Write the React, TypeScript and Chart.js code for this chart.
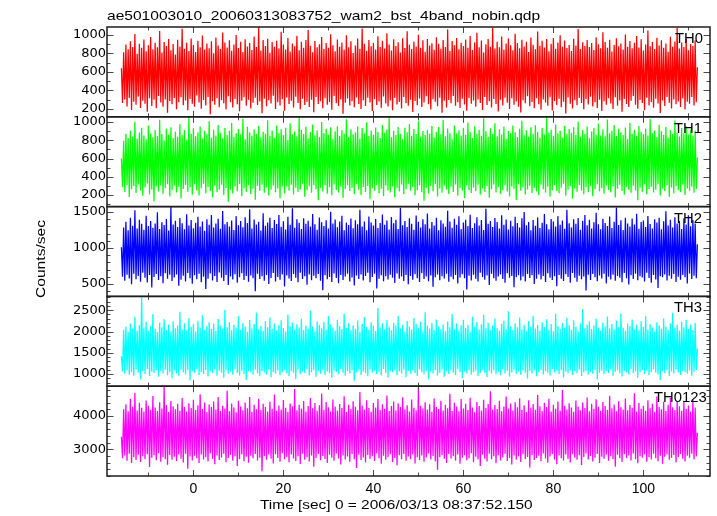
import React, { useEffect, useRef } from 'react';
import { Chart, registerables } from 'chart.js';
Chart.register(...registerables);

// ---- data (time grid: start + step, one value per sample) ----
const T_START = -16;
const T_STEP = 0.25;

const PANEL_LABELS = ['TH0', 'TH1', 'TH2', 'TH3', 'TH0123'];
const TITLE = 'ae501003010_20060313083752_wam2_bst_4band_nobin.qdp';
const X_TITLE = 'Time [sec] 0 = 2006/03/13 08:37:52.150';
const Y_TITLE = 'Counts/sec';

const TH0 = [
  640, 262, 812, 301, 897, 224, 846, 318, 933, 187, 871, 276, 1012, 243, 798, 332,
  905, 209, 862, 288, 951, 256, 823, 167, 889, 314, 978, 231, 845, 297, 916, 205,
  867, 339, 1043, 268, 809, 221, 924, 302, 881, 158, 957, 284, 836, 249, 902, 317,
  789, 196, 948, 272, 874, 325, 1068, 238, 851, 289, 917, 183, 826, 307, 963, 254,
  892, 222, 815, 343, 939, 267, 868, 201, 995, 296, 842, 235, 907, 328, 857, 142,
  931, 281, 803, 245, 972, 313, 886, 218, 848, 294, 1027, 259, 919, 192, 864, 336,
  943, 271, 829, 213, 898, 305, 1001, 248, 858, 172, 926, 287, 817, 326, 954, 233,
  876, 299, 912, 204, 838, 265, 985, 319, 869, 241, 1087, 278, 832, 152, 945, 310,
  881, 227, 960, 293, 807, 257, 923, 342, 872, 199, 938, 270, 853, 236, 1036, 303,
  896, 180, 844, 322, 968, 251, 821, 286, 909, 214, 879, 331, 992, 263, 836, 195,
  927, 308, 862, 240, 946, 275, 1054, 220, 883, 297, 812, 163, 935, 327, 868, 252,
  901, 283, 979, 206, 847, 315, 914, 244, 861, 273, 1009, 190, 890, 338, 824, 261,
  952, 229, 873, 300, 918, 147, 840, 266, 997, 311, 866, 237, 932, 282, 805, 216,
  887, 323, 963, 253, 850, 197, 1071, 292, 904, 230, 829, 319, 945, 268, 878, 176,
  916, 306, 843, 242, 986, 279, 870, 211, 939, 334, 855, 258, 1018, 225, 897, 290,
  831, 185, 954, 316, 882, 247, 921, 274, 811, 202, 966, 329, 859, 261, 1042, 234,
  893, 298, 848, 166, 929, 285, 875, 239, 1003, 312, 863, 219, 942, 269, 818, 337,
  958, 250, 885, 193, 911, 304, 839, 276, 976, 227, 906, 321, 852, 156, 947, 287,
  871, 213, 1061, 295, 827, 260, 934, 340, 889, 232, 968, 271, 845, 208, 915, 309,
  880, 246, 951, 179, 862, 318, 990, 255, 837, 291, 920, 223, 1024, 302, 866, 264,
  941, 188, 809, 328, 899, 241, 957, 282, 874, 215, 1079, 306, 853, 253, 926, 171,
  868, 297, 983, 236, 842, 320, 908, 266, 961, 199, 888, 313, 834, 244, 1013, 280,
  912, 222, 857, 161, 949, 292, 876, 259, 928, 335, 816, 228, 973, 273, 895, 207,
  846, 315, 1039, 249, 883, 190, 937, 301, 864, 268, 956, 233, 823, 326, 904, 182,
  967, 284, 851, 240, 918, 310, 998, 217, 873, 277, 940, 149, 858, 322, 891, 256,
  827, 203, 959, 293, 885, 239, 1066, 318, 847, 262, 922, 194, 880, 305, 946, 247,
  869, 330, 913, 225, 838, 271, 977, 208, 901, 299, 856, 176, 1031, 283, 924, 243,
  862, 314, 948, 258, 820, 197, 893, 325, 965, 234, 877, 290, 909, 168, 842, 306,
  1005, 251, 872, 219, 936, 287, 857, 339, 916, 245, 989, 201, 865, 296, 954, 263,
  833, 185, 898, 320, 1048, 236, 879, 274, 925, 212, 848, 308, 971, 257, 887, 153,
  942, 289, 861, 231, 907, 327, 818, 266, 982, 204, 874, 300, 930, 248, 1075, 280,
  855, 220, 919, 311, 869, 193, 958, 276, 836, 254, 903, 329, 882, 237, 944, 270,
  650,
];

const TH1 = [
  600, 286, 795, 232, 871, 309, 826, 178, 904, 263, 842, 297, 1003, 221, 817, 315,
  886, 248, 939, 190, 853, 281, 812, 327, 961, 206, 878, 259, 834, 132, 912, 293,
  847, 237, 1026, 305, 869, 214, 798, 276, 928, 318, 861, 184, 943, 252, 825, 301,
  895, 227, 838, 290, 976, 160, 859, 265, 914, 309, 806, 236, 1058, 283, 874, 203,
  931, 317, 844, 248, 889, 195, 952, 274, 816, 323, 903, 218, 867, 288, 1012, 241,
  829, 172, 917, 300, 852, 229, 968, 261, 883, 311, 821, 199, 936, 277, 857, 125,
  904, 256, 990, 216, 839, 294, 876, 242, 925, 320, 863, 187, 1037, 270, 811, 235,
  948, 306, 885, 210, 851, 268, 919, 148, 868, 299, 957, 245, 832, 313, 894, 223,
  873, 282, 1019, 193, 846, 257, 908, 304, 827, 230, 963, 271, 880, 165, 922, 292,
  858, 217, 939, 289, 804, 246, 986, 312, 866, 204, 897, 278, 843, 234, 1045, 260,
  915, 322, 869, 181, 948, 251, 822, 295, 891, 225, 972, 308, 854, 262, 910, 141,
  837, 276, 1001, 239, 881, 303, 926, 213, 861, 284, 942, 198, 815, 316, 899, 254,
  955, 228, 848, 291, 913, 170, 874, 266, 1031, 306, 836, 243, 920, 279, 865, 211,
  888, 319, 952, 258, 819, 200, 934, 287, 876, 232, 998, 298, 847, 154, 907, 273,
  862, 244, 941, 310, 893, 219, 825, 267, 969, 189, 884, 302, 918, 250, 1050, 226,
  834, 293, 906, 176, 857, 275, 946, 238, 871, 315, 812, 208, 937, 264, 887, 324,
  979, 247, 851, 285, 924, 196, 868, 253, 1009, 307, 840, 231, 901, 137, 859, 280,
  916, 215, 872, 297, 958, 242, 830, 319, 894, 182, 947, 270, 866, 225, 1022, 301,
  845, 259, 929, 210, 881, 289, 811, 233, 963, 314, 877, 192, 909, 276, 853, 246,
  938, 163, 861, 304, 995, 255, 892, 221, 826, 283, 954, 240, 873, 311, 915, 201,
  850, 272, 1041, 235, 898, 299, 838, 168, 932, 262, 869, 315, 987, 227, 844, 288,
  921, 212, 864, 251, 950, 306, 817, 239, 903, 184, 878, 294, 961, 267, 889, 146,
  835, 318, 926, 245, 1014, 283, 856, 204, 911, 259, 842, 300, 944, 222, 872, 276,
  966, 237, 891, 197, 828, 313, 937, 264, 863, 228, 1052, 290, 885, 179, 917, 252,
  849, 307, 973, 243, 876, 218, 906, 279, 831, 323, 958, 191, 868, 261, 923, 296,
  884, 158, 943, 272, 857, 234, 1006, 310, 839, 250, 912, 207, 870, 285, 951, 229,
  822, 298, 896, 186, 934, 263, 861, 318, 984, 240, 853, 274, 918, 214, 843, 304,
  1027, 255, 877, 230, 905, 292, 968, 172, 846, 269, 927, 311, 888, 244, 859, 201,
  940, 287, 814, 258, 992, 223, 873, 301, 915, 249, 848, 143, 956, 278, 895, 236,
  866, 316, 929, 209, 852, 265, 1034, 291, 881, 226, 908, 257, 836, 320, 971, 194,
  899, 268, 858, 242, 946, 306, 827, 178, 912, 283, 869, 218, 1016, 295, 884, 253,
  841, 230, 935, 312, 876, 200, 953, 271, 863, 247, 919, 289, 850, 225, 907, 266,
  610,
];

const TH2 = [
  1010, 602, 1285, 548, 1362, 631, 1247, 579, 1418, 497, 1309, 644, 1521, 566, 1268, 612,
  1391, 534, 1336, 659, 1254, 587, 1447, 521, 1303, 626, 1372, 453, 1279, 598, 1338, 640,
  1493, 557, 1262, 608, 1355, 512, 1317, 651, 1402, 574, 1241, 629, 1573, 545, 1326, 593,
  1378, 634, 1289, 476, 1414, 562, 1344, 617, 1258, 538, 1466, 655, 1312, 583, 1387, 506,
  1273, 622, 1349, 569, 1432, 645, 1296, 527, 1365, 603, 1238, 433, 1397, 575, 1321, 648,
  1458, 551, 1283, 614, 1340, 530, 1405, 661, 1267, 589, 1512, 542, 1330, 627, 1359, 488,
  1299, 606, 1382, 564, 1250, 637, 1441, 519, 1316, 595, 1374, 650, 1286, 556, 1426, 612,
  1345, 533, 1537, 621, 1271, 580, 1393, 402, 1325, 642, 1363, 571, 1242, 610, 1480, 546,
  1307, 628, 1354, 503, 1419, 586, 1276, 654, 1388, 537, 1332, 600, 1455, 561, 1294, 635,
  1370, 467, 1257, 618, 1434, 578, 1321, 543, 1549, 639, 1281, 590, 1399, 525, 1348, 657,
  1264, 572, 1412, 609, 1337, 493, 1378, 632, 1296, 554, 1471, 617, 1328, 580, 1253, 640,
  1423, 548, 1357, 415, 1305, 624, 1385, 566, 1269, 600, 1502, 531, 1340, 646, 1394, 584,
  1288, 511, 1366, 627, 1446, 558, 1247, 605, 1351, 642, 1318, 536, 1408, 592, 1274, 481,
  1383, 619, 1330, 570, 1528, 634, 1299, 549, 1367, 611, 1245, 658, 1437, 527, 1353, 597,
  1311, 643, 1401, 438, 1277, 576, 1346, 623, 1464, 539, 1323, 608, 1380, 563, 1256, 630,
  1429, 590, 1342, 515, 1390, 648, 1263, 575, 1556, 604, 1315, 544, 1374, 626, 1292, 499,
  1410, 613, 1334, 559, 1252, 637, 1448, 582, 1362, 528, 1285, 652, 1397, 571, 1327, 607,
  1478, 540, 1271, 618, 1358, 462, 1312, 596, 1419, 633, 1246, 555, 1385, 609, 1339, 577,
  1295, 645, 1517, 532, 1368, 601, 1281, 568, 1404, 625, 1320, 507, 1439, 592, 1261, 638,
  1352, 583, 1391, 425, 1303, 615, 1460, 551, 1278, 629, 1344, 574, 1426, 536, 1311, 656,
  1386, 597, 1249, 561, 1543, 620, 1335, 489, 1372, 643, 1290, 580, 1415, 547, 1358, 606,
  1268, 632, 1452, 570, 1322, 518, 1395, 649, 1255, 588, 1376, 611, 1301, 456, 1433, 594,
  1347, 624, 1283, 552, 1410, 606, 1497, 537, 1316, 640, 1361, 584, 1244, 623, 1388, 503,
  1308, 576, 1421, 635, 1275, 564, 1350, 612, 1469, 528, 1330, 651, 1259, 590, 1402, 556,
  1367, 609, 1297, 471, 1441, 628, 1320, 573, 1381, 545, 1265, 637, 1530, 600, 1343, 520,
  1284, 653, 1399, 589, 1336, 534, 1415, 617, 1252, 568, 1377, 606, 1458, 412, 1314, 629,
  1392, 558, 1270, 641, 1355, 596, 1486, 541, 1329, 618, 1260, 577, 1404, 645, 1345, 510,
  1306, 602, 1435, 565, 1278, 630, 1364, 548, 1560, 614, 1317, 587, 1383, 526, 1250, 655,
  1420, 581, 1339, 496, 1297, 623, 1408, 570, 1326, 642, 1473, 553, 1266, 610, 1359, 593,
  1382, 537, 1292, 658, 1444, 585, 1333, 519, 1271, 627, 1398, 564, 1352, 447, 1418, 609,
  1259, 596, 1369, 632, 1508, 550, 1310, 617, 1391, 574, 1282, 639, 1427, 530, 1340, 603,
  1373, 561, 1264, 626, 1413, 594, 1325, 507, 1453, 648, 1301, 572, 1386, 615, 1338, 583,
  1050,
];

const TH3 = [
  1420, 1062, 2043, 1008, 2117, 1093, 1996, 987, 2188, 1045, 2071, 963, 2342, 1110, 2025, 1031,
  2154, 874, 2800, 1076, 2089, 1002, 2231, 1118, 2012, 956, 2126, 1057, 2412, 1024, 2063, 1099,
  1988, 938, 2205, 1071, 2098, 1013, 2287, 1105, 2034, 975, 2163, 1048, 2006, 901, 2241, 1084,
  2079, 1016, 2139, 969, 2467, 1102, 2051, 1039, 2194, 993, 2020, 1089, 2316, 852, 2110, 1061,
  2168, 1027, 1999, 1113, 2252, 981, 2086, 1050, 2381, 1004, 2039, 1096, 2130, 945, 2218, 1068,
  2057, 1021, 2183, 1107, 2010, 960, 2296, 1079, 2147, 1035, 2071, 917, 2513, 1092, 2103, 1010,
  2226, 1055, 2030, 984, 2159, 1115, 2094, 1029, 2357, 966, 2044, 1082, 2202, 1003, 2118, 865,
  1993, 1066, 2270, 1041, 2074, 992, 2176, 1100, 2440, 1018, 2055, 951, 2137, 1074, 2017, 1037,
  2244, 990, 2101, 1109, 2327, 927, 2062, 1052, 2189, 1011, 2026, 1087, 2155, 973, 2263, 1043,
  2084, 1094, 2003, 1019, 2398, 958, 2121, 1071, 2213, 1032, 2049, 886, 2172, 1104, 2092, 999,
  2301, 1058, 2035, 1023, 2143, 1117, 2068, 970, 2485, 1046, 2115, 1090, 2008, 939, 2236, 1065,
  2151, 1006, 2077, 1101, 2224, 979, 2040, 1060, 2364, 1027, 2166, 912, 2097, 1083, 2019, 1049,
  2279, 995, 2128, 1112, 2058, 1034, 2425, 961, 2081, 1075, 2197, 1014, 2033, 1097, 2149, 843,
  2065, 1040, 2256, 1086, 2002, 982, 2181, 1063, 2338, 1020, 2106, 948, 2042, 1108, 2215, 1036,
  2134, 1078, 2013, 1000, 2559, 1054, 2090, 967, 2192, 1119, 2054, 1028, 2268, 922, 2119, 1067,
  2027, 1044, 2207, 1091, 2145, 976, 2373, 1059, 2072, 1012, 2161, 1103, 1997, 934, 2248, 1072,
  2112, 1009, 2045, 1085, 2320, 1026, 2178, 953, 2088, 1111, 2230, 1042, 2015, 998, 2453, 1080,
  2136, 880, 2069, 1057, 2199, 1015, 2037, 1098, 2285, 968, 2124, 1033, 2052, 1106, 2164, 941,
  2009, 1070, 2238, 1001, 2102, 1088, 2411, 1030, 2060, 978, 2186, 1114, 2023, 1051, 2147, 906,
  2274, 1064, 2081, 1017, 2157, 1093, 2000, 985, 2349, 1047, 2113, 1081, 2221, 958, 2046, 1025,
  2170, 1101, 2391, 1038, 2076, 931, 2207, 1066, 2029, 1013, 2140, 1092, 2306, 997, 2085, 1054,
  2018, 971, 2184, 1110, 2251, 1022, 2064, 1077, 2478, 944, 2126, 1040, 2036, 1100, 2193, 1007,
  2099, 1061, 2331, 987, 2050, 1085, 2160, 1034, 2011, 898, 2245, 1072, 2118, 1016, 2372, 1090,
  2073, 950, 2154, 1048, 2026, 1105, 2219, 993, 2107, 1069, 2290, 1030, 2043, 965, 2177, 1115,
  2008, 1039, 2416, 1079, 2131, 1004, 2061, 1096, 2202, 926, 2090, 1058, 2324, 1021, 2150, 1087,
  2039, 982, 2262, 1065, 2116, 1018, 2004, 1103, 2188, 955, 2527, 1044, 2079, 1074, 2163, 989,
  2233, 1052, 2057, 1010, 2139, 1097, 2297, 872, 2091, 1035, 2021, 1083, 2210, 1000, 2125, 1063,
  2354, 1029, 2068, 1108, 2174, 962, 2047, 1055, 2261, 1092, 2104, 1019, 2431, 947, 2083, 1076,
  2016, 1041, 2190, 999, 2129, 1113, 2283, 1026, 2052, 1068, 2157, 916, 2031, 1051, 2240, 1099,
  2108, 1005, 2369, 1080, 2045, 973, 2171, 1046, 2094, 1116, 2001, 1032, 2215, 990, 2140, 859,
  2066, 1070, 2305, 1023, 2118, 1094, 2033, 957, 2196, 1060, 2442, 1014, 2087, 1102, 2159, 1037,
  2024, 981, 2227, 1073, 2100, 1043, 2278, 1009, 2058, 1089, 2166, 964, 2037, 1057, 2203, 1095,
  1600,
];

const TH0123 = [
  3380, 2736, 4205, 2812, 4356, 2654, 4148, 2871, 4521, 2590, 4283, 2759, 4702, 2683, 4172, 2840,
  4398, 2618, 4249, 2793, 4135, 2702, 4467, 2855, 4310, 2466, 4189, 2745, 4603, 2821, 4262, 2671,
  4157, 2880, 4419, 2627, 4231, 2766, 4886, 2704, 4337, 2539, 4120, 2832, 4455, 2690, 4296, 2775,
  4208, 2651, 4372, 2848, 4164, 2721, 4542, 2604, 4276, 2869, 4138, 2414, 4389, 2783, 4241, 2663,
  4495, 2805, 4182, 2730, 4323, 2587, 4659, 2842, 4214, 2697, 4407, 2764, 4126, 2631, 4348, 2875,
  4271, 2709, 4436, 2553, 4197, 2814, 4573, 2678, 4150, 2752, 4313, 2866, 4228, 2613, 4760, 2738,
  4145, 2827, 4382, 2661, 4255, 2789, 4117, 2502, 4465, 2713, 4292, 2851, 4176, 2640, 4411, 2775,
  4239, 2596, 4578, 2809, 4132, 2731, 4345, 2862, 4208, 2668, 4524, 2746, 4187, 2338, 4369, 2797,
  4270, 2685, 4140, 2837, 4432, 2716, 4221, 2576, 4648, 2853, 4163, 2742, 4318, 2625, 4195, 2880,
  4486, 2700, 4252, 2771, 4129, 2609, 4377, 2846, 4296, 2727, 4813, 2652, 4175, 2795, 4341, 2561,
  4218, 2869, 4454, 2688, 4142, 2760, 4307, 2634, 4541, 2818, 4233, 2476, 4395, 2739, 4161, 2857,
  4330, 2673, 4682, 2801, 4192, 2711, 4423, 2590, 4266, 2835, 4135, 2749, 4502, 2660, 4285, 2878,
  4158, 2722, 4367, 2547, 4244, 2813, 4596, 2695, 4122, 2782, 4340, 2628, 4211, 2864, 4448, 2706,
  4279, 2436, 4173, 2840, 4725, 2679, 4316, 2757, 4199, 2601, 4474, 2828, 4247, 2718, 4134, 2796,
  4392, 2646, 4259, 2873, 4518, 2733, 4186, 2565, 4354, 2808, 4223, 2690, 4620, 2770, 4151, 2852,
  4301, 2617, 4440, 2741, 4167, 2520, 4384, 2826, 4272, 2704, 4566, 2861, 4204, 2656, 4329, 2788,
  4137, 2699, 4496, 2844, 4253, 2575, 4179, 2763, 4861, 2681, 4311, 2816, 4232, 2627, 4417, 2752,
  4196, 2877, 4358, 2693, 4128, 2802, 4530, 2642, 4277, 2385, 4214, 2760, 4463, 2834, 4166, 2714,
  4345, 2589, 4235, 2859, 4671, 2726, 4154, 2797, 4402, 2661, 4290, 2845, 4147, 2567, 4512, 2744,
  4226, 2820, 4375, 2675, 4181, 2735, 4549, 2881, 4262, 2610, 4118, 2778, 4426, 2698, 4306, 2498,
  4161, 2839, 4493, 2717, 4240, 2633, 4365, 2867, 4746, 2701, 4199, 2789, 4336, 2582, 4213, 2824,
  4459, 2666, 4143, 2756, 4288, 2868, 4591, 2650, 4230, 2739, 4381, 2545, 4170, 2815, 4414, 2687,
  4264, 2783, 4537, 2621, 4191, 2850, 4326, 2708, 4125, 2768, 4480, 2455, 4248, 2831, 4362, 2677,
  4188, 2742, 4633, 2806, 4297, 2640, 4155, 2872, 4403, 2723, 4271, 2599, 4519, 2787, 4139, 2862,
  4339, 2694, 4222, 2553, 4441, 2818, 4168, 2731, 4785, 2664, 4313, 2847, 4202, 2712, 4390, 2604,
  4256, 2856, 4133, 2750, 4472, 2684, 4291, 2826, 4176, 2527, 4407, 2768, 4244, 2879, 4560, 2697,
  4149, 2801, 4368, 2637, 4219, 2748, 4508, 2860, 4280, 2592, 4163, 2780, 4425, 2716, 4302, 2838,
  4187, 2657, 4612, 2795, 4236, 2703, 4352, 2476, 4145, 2835, 4449, 2735, 4268, 2619, 4199, 2854,
  4526, 2729, 4174, 2812, 4334, 2662, 4252, 2874, 4688, 2705, 4136, 2580, 4395, 2791, 4221, 2746,
  4309, 2843, 4162, 2628, 4480, 2761, 4238, 2698, 4370, 2866, 4127, 2732, 4587, 2645, 4283, 2810,
  4206, 2569, 4431, 2776, 4150, 2849, 4343, 2688, 4551, 2740, 4267, 2829, 4180, 2607, 4422, 2772,
  4293, 2861, 4159, 2719, 4462, 2637, 4224, 2807, 4318, 2751, 4141, 2871, 4497, 2693, 4259, 2786,
  3500,
];

const SERIES = [TH0, TH1, TH2, TH3, TH0123];
const COLORS = ['#ff0000', '#00ff00', '#0000ff', '#00ffff', '#ff00ff'];

// axis limits and tick values
const X_MIN = -19.2;
const X_MAX = 114.8;
const X_MAJOR = [0, 20, 40, 60, 80, 100];
const X_MINOR_STEP = 10;

const Y_MIN = [113, 72, 330, 716, 2198];
const Y_MAX = [1087, 1058, 1573, 2825, 4900];
const Y_MAJOR = [
  [200, 400, 600, 800, 1000],
  [200, 400, 600, 800, 1000],
  [500, 1000, 1500],
  [1000, 1500, 2000, 2500],
  [3000, 4000],
];
const Y_MINOR_STEP = [100, 100, 100, 100, 200];

const SANS = "'Liberation Sans', Arial, Helvetica, sans-serif";

const framePlugin = {
  id: 'qdpFrame',
  afterDatasetsDraw(chart: any) {
    const ctx = chart.ctx as CanvasRenderingContext2D;
    const xs = chart.scales.x;
    const left = chart.chartArea.left;
    const right = chart.chartArea.right;
    ctx.save();
    const line = (x1: number, y1: number, x2: number, y2: number) => {
      ctx.beginPath();
      ctx.moveTo(x1, y1);
      ctx.lineTo(x2, y2);
      ctx.stroke();
    };
    for (let k = 0; k < SERIES.length; k++) {
      const ys = chart.scales['y' + k];
      const top = ys.top;
      const bottom = ys.bottom;
      ctx.strokeStyle = '#4a4a4a';
      ctx.lineWidth = 1;
      const step = Y_MINOR_STEP[k];
      for (let v = Math.ceil(Y_MIN[k] / step) * step; v <= Y_MAX[k]; v += step) {
        const len = Y_MAJOR[k].includes(v) ? 6.5 : 3.5;
        const y = Math.round(ys.getPixelForValue(v)) + 0.5;
        line(left, y, left + len, y);
        line(right, y, right - len, y);
      }
      for (let v = Math.ceil(X_MIN / X_MINOR_STEP) * X_MINOR_STEP; v <= X_MAX; v += X_MINOR_STEP) {
        const len = X_MAJOR.includes(v) ? 6 : 3.5;
        const x = Math.round(xs.getPixelForValue(v)) + 0.5;
        line(x, top, x, top + len);
        line(x, bottom, x, bottom - len);
      }
      ctx.strokeStyle = '#1e1e1e';
      ctx.lineWidth = 1.5;
      ctx.strokeRect(left, top, right - left, bottom - top);
    }
    ctx.restore();
  },
};

const PANEL_LABEL_LEFT = [675, 674, 674, 674, 654];
const PANEL_LABEL_TOP = [31, 121, 211, 300, 390];

export default function App() {
  const ref = useRef<HTMLCanvasElement>(null);

  useEffect(() => {
    const canvas = ref.current;
    if (!canvas) return;
    const datasets = SERIES.map((vals, k) => ({
      label: PANEL_LABELS[k],
      data: vals.map((v, i) => ({ x: T_START + i * T_STEP, y: v })),
      yAxisID: 'y' + k,
      borderColor: COLORS[k],
      backgroundColor: COLORS[k],
      borderWidth: 1.25,
      borderJoinStyle: 'bevel' as const,
      pointRadius: 0,
      tension: 0,
      fill: false,
    }));
    const scales: any = {
      x: {
        type: 'linear',
        position: 'bottom',
        min: X_MIN,
        max: X_MAX,
        afterBuildTicks: (s: any) => {
          s.ticks = X_MAJOR.map((v) => ({ value: v }));
        },
        afterFit: (s: any) => {
          s.height = 40;
        },
        grid: { display: false, drawTicks: false },
        border: { display: false },
        ticks: {
          color: '#000',
          font: { family: SANS, size: 14 },
          padding: 5,
          maxRotation: 0,
          autoSkip: false,
          callback: (v: any) => String(v),
        },
      },
    };
    SERIES.forEach((_, k) => {
      scales['y' + k] = {
        type: 'linear',
        position: 'left',
        stack: 'panels',
        stackWeight: 1,
        weight: SERIES.length - k,
        min: Y_MIN[k],
        max: Y_MAX[k],
        afterBuildTicks: (s: any) => {
          s.ticks = Y_MAJOR[k].map((v) => ({ value: v }));
        },
        afterFit: (s: any) => {
          s.width = 107;
        },
        grid: { display: false, drawTicks: false },
        border: { display: false },
        ticks: {
          color: '#000',
          font: { family: "'DejaVu Sans', sans-serif", size: 13 },
          padding: 1,
          autoSkip: false,
          callback: (v: any) => String(v),
        },
      };
    });
    const chart = new Chart(canvas, {
      type: 'line',
      data: { datasets },
      options: {
        animation: false,
        responsive: false,
        devicePixelRatio: 1,
        events: [],
        layout: { padding: { top: 27, right: 7, left: 0, bottom: 0 } },
        plugins: { legend: { display: false }, tooltip: { enabled: false }, title: { display: false } },
        scales,
      },
      plugins: [framePlugin],
    } as any);
    return () => chart.destroy();
  }, []);

  const textBase: React.CSSProperties = {
    position: 'absolute',
    fontFamily: SANS,
    lineHeight: 1,
    whiteSpace: 'nowrap',
    color: '#000',
    transformOrigin: 'left top',
  };

  return (
    <div style={{ position: 'absolute', left: 0, top: 0, width: 717, height: 516, background: '#fff' }}>
      <canvas ref={ref} width={717} height={516} style={{ position: 'absolute', left: 0, top: 0 }} />
      <div style={{ ...textBase, left: 107, top: 9, fontSize: 13, transform: 'scaleX(1.196)' }}>{TITLE}</div>
      <div style={{ ...textBase, left: 260, top: 498, fontSize: 13, transform: 'scaleX(1.187)' }}>{X_TITLE}</div>
      <div style={{ ...textBase, left: 34, top: 298, fontSize: 13, transform: 'rotate(-90deg) scaleX(1.2)' }}>{Y_TITLE}</div>
      {PANEL_LABELS.map((t, k) => (
        <div
          key={t}
          style={{ ...textBase, left: PANEL_LABEL_LEFT[k], top: PANEL_LABEL_TOP[k], fontSize: 14, transform: 'scaleX(1.06)' }}
        >
          {t}
        </div>
      ))}
    </div>
  );
}
